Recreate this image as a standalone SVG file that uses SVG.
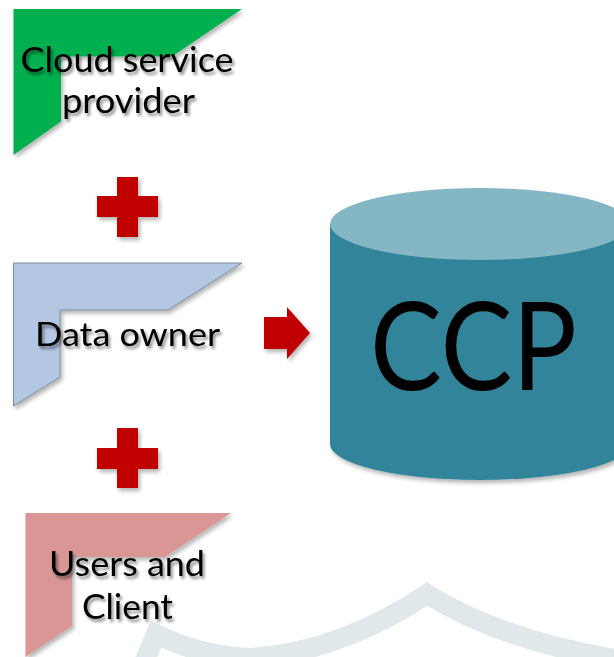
<svg xmlns="http://www.w3.org/2000/svg" width="614" height="657" viewBox="0 0 614 657">
  <defs>
    <filter id="tsh" x="-10%" y="-20%" width="130%" height="160%">
      <feGaussianBlur in="SourceAlpha" stdDeviation="1.6" result="b"/>
      <feOffset in="b" dx="2" dy="3" result="o"/>
      <feComponentTransfer in="o" result="s"><feFuncA type="linear" slope="0.45"/></feComponentTransfer>
      <feMerge><feMergeNode in="s"/><feMergeNode in="SourceGraphic"/></feMerge>
    </filter>
    <filter id="ssh" x="-10%" y="-10%" width="130%" height="130%">
      <feGaussianBlur in="SourceAlpha" stdDeviation="2" result="b"/>
      <feOffset in="b" dx="2" dy="3" result="o"/>
      <feComponentTransfer in="o" result="s"><feFuncA type="linear" slope="0.3"/></feComponentTransfer>
      <feMerge><feMergeNode in="s"/><feMergeNode in="SourceGraphic"/></feMerge>
    </filter>
    <style>
      .lbl { font-family: Lato, "Open Sans", "Liberation Sans", sans-serif; fill: #000; }
      .red { fill: #c00000; }
    </style>
  </defs>
  <rect width="614" height="657" fill="#ffffff"/>

  <g id="shield">
    <path d="M 140 672 L 156 634 Q 200 656 250 658 Q 340 652 427 594 Q 500 640 620 660" fill="none" stroke="#e0e8eb" stroke-width="20" stroke-linejoin="miter" stroke-miterlimit="10"/>
  </g>

  <g id="cloud-service-provider">
    <polygon points="13.5,9 242,9 172,56.5 61,56.5 61,121.5 13.5,155" fill="#00b050" filter="url(#ssh)"/>
    <g filter="url(#tsh)">
      <text class="lbl" x="20.5" y="72" font-size="34" textLength="213" lengthAdjust="spacingAndGlyphs">Cloud service</text>
      <text class="lbl" x="62" y="113" font-size="34" textLength="133" lengthAdjust="spacingAndGlyphs">provider</text>
    </g>
  </g>

  <g id="data-owner">
    <polygon points="13.5,263 242,263 168,310 60,310 60,377 13.5,406" fill="#b4c7e2" stroke="#7f8c9e" stroke-width="1" filter="url(#ssh)"/>
    <text class="lbl" x="35" y="346" font-size="33" textLength="185" lengthAdjust="spacingAndGlyphs" filter="url(#tsh)">Data owner</text>
  </g>

  <g id="users-and-client">
    <polygon points="25.5,513 231,513 165,557 72,557 72,626 25.5,657" fill="#d99694" filter="url(#ssh)"/>
    <g filter="url(#tsh)">
      <text class="lbl" x="49" y="576" font-size="34" textLength="156" lengthAdjust="spacingAndGlyphs">Users and</text>
      <text class="lbl" x="82" y="619" font-size="34" textLength="91" lengthAdjust="spacingAndGlyphs">Client</text>
    </g>
  </g>

  <g id="ccp">
    <g filter="url(#ssh)">
      <path d="M 330 224 L 330 444 A 150 36 0 0 0 630 444 L 630 224 Z" fill="#31849b"/>
      <ellipse cx="480" cy="224" rx="150" ry="36" fill="#85b6c3"/>
    </g>
    <text class="lbl" x="370" y="390" font-size="122" textLength="207" lengthAdjust="spacingAndGlyphs">CCP</text>
  </g>

  <g id="connectors" filter="url(#ssh)">
    <path class="red" d="M 117 177 H 138 V 196 H 158 V 217 H 138 V 237 H 117 V 217 H 97 V 196 H 117 Z"/>
    <path class="red" d="M 117 428 H 138 V 448 H 158 V 469 H 138 V 488 H 117 V 469 H 97 V 448 H 117 Z"/>
    <polygon class="red" points="264,317 287,317 287,307 310,333 287,359 287,349 264,349"/>
  </g>
</svg>
